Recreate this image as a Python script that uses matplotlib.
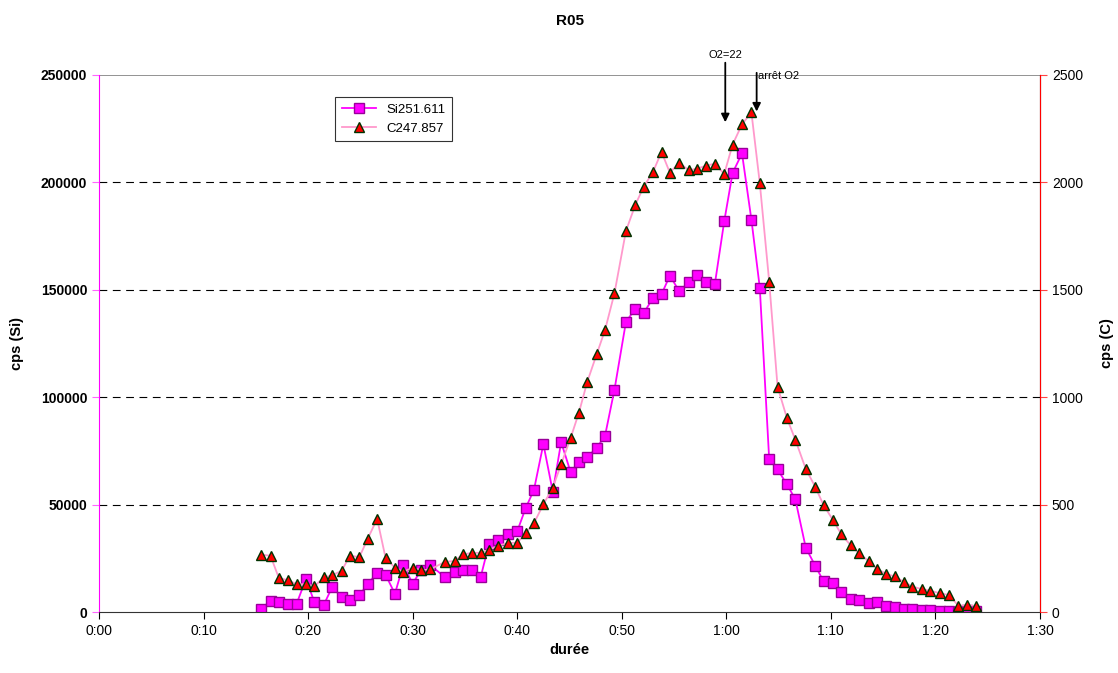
import matplotlib
matplotlib.use("Agg")
import matplotlib.pyplot as plt
from matplotlib.ticker import FixedLocator, FuncFormatter

plt.rcParams["font.family"] = ["Liberation Sans", "DejaVu Sans"]

# time in seconds
t = [15.5, 16.4, 17.2, 18.1, 18.9, 19.8, 20.6, 21.5, 22.3, 23.2,
     24.0, 24.9, 25.7, 26.6, 27.4, 28.3, 29.1, 30.0, 30.8, 31.7,
     33.1, 34.0, 34.8, 35.7, 36.5, 37.3, 38.2, 39.1, 40.0, 40.8,
     41.6, 42.5, 43.4, 44.2, 45.1, 45.9, 46.7, 47.6, 48.4, 49.3,
     50.4, 51.3, 52.1, 53.0, 53.8, 54.6, 55.5, 56.4, 57.2, 58.1,
     58.9, 59.8, 60.6, 61.5, 62.4, 63.2, 64.1, 64.9, 65.8, 66.6,
     67.6, 68.5, 69.3, 70.2, 71.0, 71.9, 72.7, 73.6, 74.4, 75.3,
     76.1, 77.0, 77.8, 78.7, 79.5, 80.4, 81.3, 82.2, 83.0, 83.9]

si = [1500, 5100, 4500, 3900, 3900, 15500, 4500, 3400, 11600, 7100,
      5700, 7900, 13000, 18300, 17400, 8500, 21900, 13200, 19600, 21700,
      16200, 18500, 19700, 19600, 16200, 31700, 33500, 36200, 37600, 48300,
      56900, 78200, 56000, 79100, 65200, 69700, 72200, 76400, 82100, 103500,
      135100, 141200, 139200, 146300, 147900, 156600, 149300, 153500, 157000, 153800,
      152600, 181900, 204400, 213500, 182600, 151000, 71100, 66400, 59400, 52500,
      29900, 21600, 14300, 13500, 9200, 6200, 5400, 4300, 4800, 2900,
      2200, 1500, 1200, 1100, 800, 500, 300, 200, 900, 500]

c = [267, 262, 158, 148, 129, 130, 120, 161, 171, 192,
     262, 256, 341, 434, 253, 206, 188, 206, 194, 199,
     234, 237, 269, 275, 276, 290, 309, 321, 323, 366,
     414, 501, 579, 688, 809, 928, 1072, 1200, 1313, 1484,
     1774, 1896, 1980, 2050, 2142, 2045, 2092, 2056, 2064, 2078,
     2087, 2039, 2176, 2270, 2326, 1997, 1538, 1049, 902, 802,
     666, 583, 498, 428, 362, 310, 273, 237, 202, 177,
     166, 140, 118, 107, 99, 88, 79, 29, 33, 28]

xticks = list(range(0, 91, 10))
si_ticks = [0, 50000, 100000, 150000, 200000, 250000]
c_ticks = [0, 500, 1000, 1500, 2000, 2500]

fig = plt.figure(figsize=(11.18, 6.73), dpi=100)
ax = fig.add_axes([0.0886, 0.0906, 0.8416, 0.798])
ax2 = ax.twinx()

# grid
for v in si_ticks[1:-1]:
    ax.axhline(v, color="black", lw=0.8, ls=(0, (7, 5)), zorder=0)
ax.axhline(250000, color="#808080", lw=1.2, zorder=0)

l1, = ax.plot(t, si, color="#FF00FF", lw=1.3, marker="s", ms=6.5,
              mfc="#FF00FF", mec="#990099", mew=1.0, label="Si251.611")
l2, = ax2.plot(t, c, color="#FF99CC", lw=1.3, marker="^", ms=7,
               mfc="#FF0000", mec="#003300", mew=1.0, label="C247.857")

ax.set_xlim(0, 90)
ax.set_ylim(0, 250000)
ax2.set_ylim(0, 2500)

ax.xaxis.set_major_locator(FixedLocator(xticks))
ax.xaxis.set_major_formatter(FuncFormatter(lambda v, p: "%d:%02d" % (int(v) // 60, int(v) % 60)))
ax.set_yticks(si_ticks)
ax.set_yticklabels([str(v) for v in si_ticks], fontweight="bold", fontsize=10)
ax2.set_yticks(c_ticks)
ax2.set_yticklabels([str(v) for v in c_ticks], fontsize=10)
ax.tick_params(axis="x", labelsize=10, direction="out", length=5, color="black")
ax.tick_params(axis="y", direction="out", length=5, color="#FF66FF")
ax2.tick_params(axis="y", direction="out", length=5, color="#FF4444")

for a in (ax, ax2):
    a.spines["top"].set_visible(False)
ax.spines["left"].set_color("#FF00FF")
ax.spines["bottom"].set_color("#333333")
ax2.spines["left"].set_visible(False)
ax2.spines["bottom"].set_visible(False)
ax2.spines["right"].set_color("#FF0000")

ax.set_xlabel("durée", fontweight="bold", fontsize=10.5)
ax.set_ylabel("cps (Si)", fontweight="bold", fontsize=10.5, labelpad=12)
ax2.set_ylabel("cps (C)", fontweight="bold", fontsize=10.5, labelpad=12)
ax.set_title("R05", fontweight="bold", fontsize=11, pad=36)

leg = ax.legend([l1, l2], ["Si251.611", "C247.857"], loc="upper left",
                bbox_to_anchor=(0.251, 0.959), borderaxespad=0, fontsize=9.5,
                frameon=True, fancybox=False, edgecolor="black",
                handlelength=2.6, borderpad=0.5, labelspacing=0.5)
leg.get_frame().set_linewidth(0.8)

# annotations
ax2.annotate("O2=22", xy=(59.9, 2280), xytext=(59.9, 2570), fontsize=8,
             ha="center", va="bottom", annotation_clip=False,
             arrowprops=dict(arrowstyle="-|>", color="black", lw=1.3,
                             mutation_scale=12, shrinkA=0, shrinkB=0))
ax2.annotate("", xy=(62.9, 2330), xytext=(62.9, 2510), annotation_clip=False,
             arrowprops=dict(arrowstyle="-|>", color="black", lw=1.3,
                             mutation_scale=12, shrinkA=0, shrinkB=0))
ax2.text(63.0, 2495, "arrêt O2", fontsize=8, ha="left", va="center")

fig.savefig("out.png", dpi=100)
